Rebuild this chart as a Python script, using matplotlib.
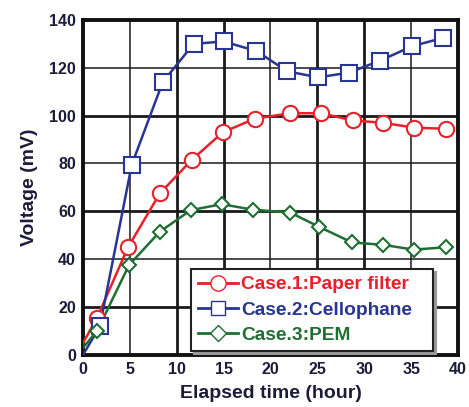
import matplotlib
matplotlib.use("Agg")
import matplotlib.pyplot as plt

plt.rcParams['font.family'] = ['Liberation Sans', 'DejaVu Sans']

# data
t_red = [0, 1.5, 4.8, 8.2, 11.6, 14.9, 18.3, 22.1, 25.4, 28.8, 32.0, 35.3, 38.7]
v_red = [5, 15.5, 45, 67.5, 81.5, 93, 98.7, 101, 101, 98, 97, 95, 94.5]
t_blue = [0, 1.8, 5.2, 8.5, 11.8, 15.0, 18.5, 21.8, 25.1, 28.4, 31.7, 35.1, 38.4]
v_blue = [0, 12, 79.5, 114, 130, 131, 127, 118.5, 116, 118, 123, 129, 132.5]
t_green = [0, 1.5, 4.9, 8.2, 11.5, 14.8, 18.1, 22.1, 25.2, 28.7, 32.0, 35.3, 38.7]
v_green = [3, 10, 37.5, 51.5, 60.5, 63, 60.7, 59.5, 53.5, 47, 46, 44, 45]
labels = ['Case.1:Paper filter', 'Case.2:Cellophane', 'Case.3:PEM']
colors = ['#e8202a', '#283592', '#1f6e32']
xticks = [0, 5, 10, 15, 20, 25, 30, 35, 40]
yticks = [0, 20, 40, 60, 80, 100, 120, 140]
thick_x = [10, 15, 25, 30]
thick_y = [20, 60, 100]

fig = plt.figure(figsize=(4.69, 4.07), dpi=100)
ax = fig.add_axes([0.177, 0.128, 0.7995, 0.823])

series = [(t_red, v_red, 'o', 11, 11), (t_blue, v_blue, 's', 11.5, 10), (t_green, v_green, 'D', 7.5, 8)]
handles = []
for (t, v, m, ms, lms), c, lab in zip(series, colors, labels):
    ax.plot(t, v, '-', color=c, lw=1.8, zorder=3)
    ax.plot(t[1:], v[1:], linestyle='none', marker=m, ms=ms, mfc='white',
            mec=c, mew=1.5, zorder=4)
    h, = ax.plot([], [], '-', color=c, lw=2.0, marker=m, ms=lms, mfc='white',
                 mec=c, mew=1.0)
    handles.append(h)

ax.set_xlim(0, 40)
ax.set_ylim(0, 140)
ax.set_xticks(xticks)
ax.set_yticks(yticks)
for x in xticks[1:-1]:
    ax.axvline(x, color='#1a1a1a', lw=2.0 if x in thick_x else 1.1, zorder=1)
for y in yticks[1:-1]:
    ax.axhline(y, color='#1a1a1a', lw=2.0 if y in thick_y else 1.1, zorder=1)
for s in ax.spines.values():
    s.set_linewidth(2.8)
    s.set_color('#111111')
ax.tick_params(length=0, pad=5, labelsize=11.5, colors='#1c1c3a')
for lab in ax.get_xticklabels() + ax.get_yticklabels():
    lab.set_fontweight('bold')

ax.set_xlabel('Elapsed time (hour)', fontsize=14, fontweight='bold', color='#1c1c3a', labelpad=6)
ax.set_ylabel('Voltage (mV)', fontsize=14, fontweight='bold', color='#1c1c3a', labelpad=8)

leg = ax.legend(handles, labels, loc='lower left', bbox_to_anchor=(0.288, 0.012, 0.645, 0.2),
                mode='expand',
                prop={'weight': 'bold', 'size': 13.8}, frameon=True,
                fancybox=False, shadow={'ox': 2, 'oy': -2, 'color': '#9a9a9a', 'alpha': 1},
                handlelength=2.1, borderpad=0.35,
                labelspacing=0.42, handletextpad=0.15, borderaxespad=0)
leg.get_frame().set_edgecolor('#222222')
leg.get_frame().set_linewidth(1.5)
leg.get_frame().set_alpha(1)
leg.set_zorder(5)
for txt, c in zip(leg.get_texts(), colors):
    txt.set_color(c)

fig.savefig('out.png', dpi=100)
